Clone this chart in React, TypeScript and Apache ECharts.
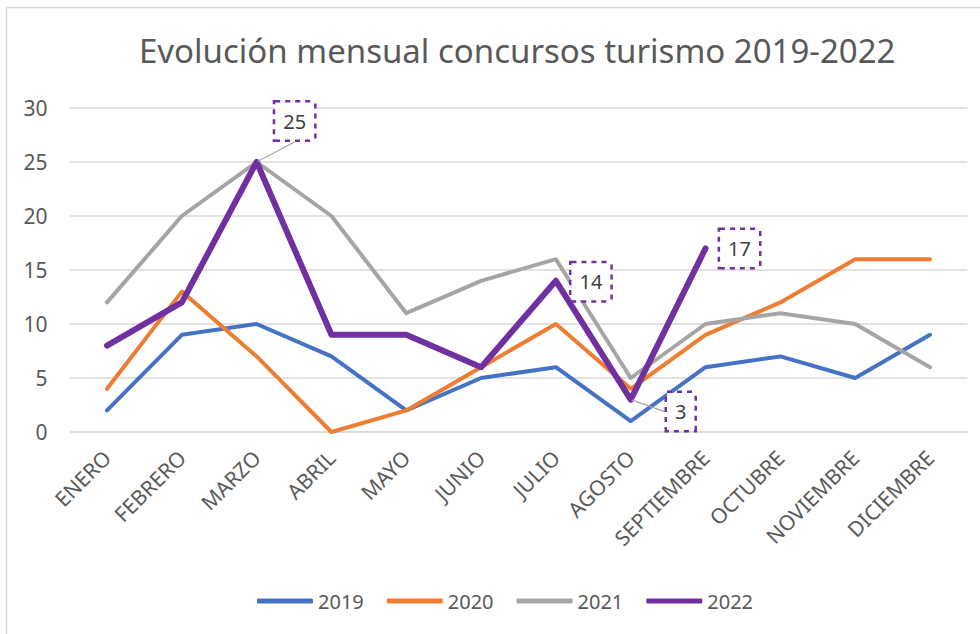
import React, { useEffect, useRef } from "react";
import * as echarts from "echarts";

const months = ["ENERO", "FEBRERO", "MARZO", "ABRIL", "MAYO", "JUNIO", "JULIO", "AGOSTO", "SEPTIEMBRE", "OCTUBRE", "NOVIEMBRE", "DICIEMBRE"];
const s2019 = [2, 9, 10, 7, 2, 5, 6, 1, 6, 7, 5, 9];
const s2020 = [4, 13, 7, 0, 2, 6, 10, 4, 9, 12, 16, 16];
const s2021 = [12, 20, 25, 20, 11, 14, 16, 5, 10, 11, 10, 6];
const s2022 = [8, 12, 25, 9, 9, 6, 14, 3, 17];
const labeled2022 = [2, 6, 7, 8];
const leader2022 = [2, 7];
const yTicks = [0, 5, 10, 15, 20, 25, 30];

const FONT = "Noto Sans";

export default function App() {
  const ref = useRef<HTMLDivElement>(null);
  useEffect(() => {
    if (!ref.current) return;
    const chart = echarts.init(ref.current, null, { renderer: "svg" });
    const labelOffsets: Record<number, [number, number]> = {
      2: [38, -41],
      6: [35, 1],
      7: [50, 12],
      8: [34, 0],
    };
    const mkLine = (name: string, data: any[], color: string, width: number, z: number) => ({
      name,
      type: "line",
      data,
      symbol: "none",
      z,
      lineStyle: { color, width, cap: "round", join: "round" },
      itemStyle: { color },
    });
    const s22: any = mkLine(
      "2022",
      s2022.map((v, i) =>
        labeled2022.includes(i)
          ? {
              value: v,
              label: {
                show: true,
                position: "inside",
                formatter: "{c}",
                fontFamily: FONT,
                fontSize: 20,
                color: "#404040",
                backgroundColor: "#ffffff",
                borderColor: "#7030A0",
                borderWidth: 2.5,
                borderType: "dotted",
                padding: [9, 8, 8, 8],
              },
              labelLine: { show: leader2022.includes(i) },
            }
          : v
      ),
      "#7030A0",
      6,
      5
    );
    s22.symbol = "circle";
    s22.symbolSize = 2;
    s22.showSymbol = true;
    s22.labelLayout = (p: any) => {
      const o = labelOffsets[p.dataIndex];
      if (!o) return {};
      return { dx: o[0], dy: o[1] };
    };
    s22.labelLine = { show: true, lineStyle: { color: "#a6a6a6", width: 1.2 } };

    chart.setOption({
      animation: false,
      backgroundColor: "#ffffff",
      title: {
        text: "Evolución mensual concursos turismo 2019-2022",
        left: 134,
        top: 29,
        textStyle: { fontFamily: FONT, fontSize: 33, fontWeight: "normal", color: "#595959" },
      },
      graphic: [
        {
          type: "rect",
          shape: { x: 6.5, y: 7.5, width: 1000, height: 700 },
          style: { fill: "none", stroke: "#d9d9d9", lineWidth: 1.5 },
          silent: true,
        },
      ],
      legend: {
        bottom: 18,
        left: 252,
        icon: "roundRect",
        itemWidth: 56,
        itemHeight: 5,
        itemGap: 23,
        textStyle: { fontFamily: FONT, fontSize: 20, color: "#595959" },
        data: ["2019", "2020", "2021", "2022"],
      },
      grid: { left: 69.6, right: 12.6, top: 108, bottom: 202, containLabel: false },
      xAxis: {
        type: "category",
        data: months,
        boundaryGap: true,
        axisLine: { lineStyle: { color: "#d9d9d9", width: 1.5 } },
        axisTick: { show: false },
        axisLabel: { rotate: 45, fontFamily: FONT, fontSize: 21, color: "#595959", margin: 22, interval: 0 },
      },
      yAxis: {
        type: "value",
        min: yTicks[0],
        max: yTicks[yTicks.length - 1],
        interval: 5,
        axisLine: { show: false },
        axisTick: { show: false },
        splitLine: { lineStyle: { color: "#d9d9d9", width: 1.5 } },
        axisLabel: { fontFamily: FONT, fontSize: 21, color: "#595959", margin: 22 },
      },
      series: [
        mkLine("2019", s2019, "#4472C4", 4, 2),
        mkLine("2020", s2020, "#ED7D31", 4, 3),
        mkLine("2021", s2021, "#A5A5A5", 4, 4),
        s22,
      ],
    });
    return () => chart.dispose();
  }, []);
  return <div ref={ref} style={{ position: "fixed", left: 0, top: 0, width: 980, height: 634 }} />;
}
